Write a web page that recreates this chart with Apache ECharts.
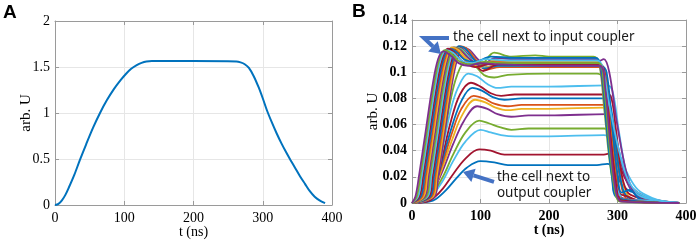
<!DOCTYPE html>
<html>
<head>
<meta charset="utf-8">
<script src="https://cdn.jsdelivr.net/npm/echarts@6/dist/echarts.min.js"></script>
<style>
body{margin:0;background:#fff;}
#main{width:699px;height:241px;}
</style>
</head>
<body>
<div id="main"></div>
<script>
//A: 输入脉冲
var tA = [0,5,10,15,20,28,36,45,55,65,75,85,95,103,110,118,125,132,140,200,262,268,274,280,287,294,300,306,313,320,327,334,340,347,354,361,368,375,382,390];
var uA = [0,0.012,0.05,0.11,0.19,0.33,0.49,0.66,0.84,1.0,1.14,1.26,1.36,1.43,1.48,1.52,1.545,1.56,1.565,1.565,1.56,1.55,1.53,1.49,1.40,1.28,1.16,1.03,0.90,0.78,0.67,0.57,0.49,0.40,0.31,0.23,0.15,0.09,0.05,0.02];

//B: 各单元腔电压, c00 = 靠近输出耦合器, c25 = 靠近输入耦合器
var c00 = [[0,0],[25,0.001],[35,0.003],[50,0.010],[65,0.019],[80,0.027],[100,0.032],[120,0.031],[140,0.029],[200,0.029],[270,0.029],[285,0.030],[295,0.027],[305,0.015],[315,0.010],[330,0.007],[350,0.003],[370,0.001],[390,0]];
var c01 = [[0,0],[22,0.001],[32,0.004],[45,0.011],[60,0.022],[78,0.034],[98,0.041],[115,0.040],[135,0.037],[200,0.037],[280,0.037],[290,0.038],[300,0.033],[310,0.020],[320,0.012],[340,0.005],[360,0.002],[390,0]];
var c02 = [[0,0],[20,0.002],[30,0.006],[45,0.017],[60,0.032],[78,0.047],[100,0.056],[115,0.054],[130,0.052],[150,0.051],[200,0.051],[280,0.052],[290,0.050],[300,0.040],[315,0.022],[330,0.010],[350,0.004],[370,0.001],[390,0]];
var c03 = [[0,0],[21,0.002],[30,0.007],[45,0.020],[60,0.037],[78,0.054],[98,0.063],[112,0.061],[128,0.058],[145,0.056],[170,0.057],[200,0.057],[280,0.057],[290,0.054],[300,0.040],[312,0.020],[325,0.008],[345,0.003],[390,0]];
var c04 = [[0,0],[22,0.002],[31,0.009],[45,0.025],[60,0.045],[76,0.063],[95,0.074],[110,0.072],[125,0.068],[145,0.066],[170,0.067],[200,0.067],[285,0.068],[292,0.062],[300,0.045],[310,0.022],[320,0.010],[335,0.004],[390,0]];
var c05 = [[0,0],[23,0.003],[32,0.010],[45,0.028],[59,0.049],[74,0.068],[92,0.079],[107,0.077],[122,0.073],[140,0.071],[160,0.072],[200,0.072],[280,0.073],[290,0.068],[298,0.045],[306,0.020],[315,0.006],[330,0.002],[390,0]];
var c06 = [[0,0],[24,0.003],[32,0.011],[45,0.031],[58,0.053],[72,0.072],[90,0.082],[105,0.080],[120,0.076],[140,0.074],[160,0.075],[200,0.075],[278,0.075],[288,0.070],[296,0.045],[304,0.018],[312,0.004],[330,0.002],[390,0]];
var c07 = [[0,0],[25,0.003],[33,0.012],[45,0.034],[58,0.058],[72,0.078],[88,0.088],[102,0.086],[118,0.081],[135,0.079],[160,0.080],[200,0.080],[280,0.080],[288,0.078],[296,0.052],[304,0.020],[312,0.006],[330,0.002],[390,0]];
var c08 = [[0,0],[26,0.004],[34,0.013],[45,0.037],[57,0.063],[70,0.083],[86,0.092],[100,0.089],[115,0.084],[130,0.082],[150,0.083],[200,0.083],[282,0.083],[290,0.082],[298,0.055],[306,0.022],[315,0.008],[330,0.004],[350,0.001],[390,0]];
var c09 = [[0,0],[28,0.004],[35,0.015],[45,0.042],[56,0.070],[67,0.088],[82,0.099],[95,0.097],[110,0.091],[125,0.088],[145,0.089],[200,0.089],[285,0.090],[293,0.085],[302,0.055],[312,0.025],[322,0.010],[340,0.004],[390,0]];
var c10 = [[0,0],[30,0.005],[36,0.018],[46,0.048],[56,0.078],[66,0.098],[78,0.108],[90,0.106],[105,0.098],[120,0.096],[140,0.098],[200,0.099],[270,0.099],[278,0.096],[288,0.060],[298,0.020],[306,0.003],[320,0.001],[390,0]];
var c11 = [[0,0],[33,0.005],[38,0.02],[48,0.055],[58,0.09],[66,0.11],[74,0.119],[84,0.117],[96,0.110],[110,0.104],[130,0.107],[160,0.108],[200,0.108],[270,0.108],[280,0.110],[288,0.100],[298,0.065],[310,0.030],[320,0.012],[332,0.003],[345,0.001],[390,0]];
var c12 = [[0,0],[31,0.005],[36,0.02],[46,0.055],[56,0.09],[64,0.11],[72,0.119],[82,0.117],[94,0.109],[108,0.104],[130,0.106],[150,0.106],[200,0.106],[272,0.106],[280,0.102],[288,0.070],[296,0.030],[304,0.006],[312,0.002],[390,0]];
var c13 = [[0,0],[29,0.005],[34,0.02],[44,0.055],[54,0.09],[62,0.11],[70,0.120],[80,0.118],[92,0.110],[108,0.102],[128,0.104],[150,0.104],[200,0.104],[274,0.104],[282,0.100],[290,0.065],[298,0.025],[305,0.004],[320,0.001],[390,0]];
var c14 = [[0,0],[27,0.005],[32,0.02],[42,0.055],[52,0.09],[60,0.11],[68,0.120],[78,0.118],[90,0.110],[106,0.103],[126,0.105],[150,0.105],[200,0.105],[276,0.105],[284,0.100],[292,0.060],[300,0.022],[306,0.008],[318,0.010],[330,0.004],[345,0.001],[390,0]];
var c15 = [[0,0],[25,0.005],[30,0.02],[40,0.055],[50,0.09],[58,0.11],[66,0.119],[76,0.117],[88,0.109],[104,0.101],[124,0.106],[150,0.107],[200,0.107],[270,0.107],[278,0.104],[286,0.070],[294,0.030],[302,0.008],[315,0.005],[330,0.002],[390,0]];
var c16 = [[0,0],[23,0.005],[28,0.02],[38,0.055],[48,0.09],[56,0.11],[64,0.119],[74,0.117],[86,0.110],[102,0.104],[124,0.111],[150,0.111],[200,0.110],[268,0.110],[276,0.105],[284,0.070],[292,0.030],[300,0.010],[310,0.003],[340,0.002],[370,0.001],[390,0]];
var c17 = [[0,0],[21,0.005],[26,0.02],[36,0.055],[46,0.09],[54,0.11],[62,0.119],[72,0.117],[84,0.110],[100,0.106],[120,0.115],[145,0.112],[180,0.113],[200,0.112],[265,0.112],[273,0.108],[281,0.070],[289,0.030],[297,0.008],[306,0.002],[390,0]];
var c18 = [[0,0],[19,0.005],[24,0.02],[34,0.055],[44,0.09],[52,0.11],[60,0.119],[70,0.117],[82,0.111],[100,0.105],[122,0.111],[150,0.110],[200,0.110],[268,0.110],[276,0.100],[284,0.060],[292,0.022],[300,0.005],[390,0]];
var c19 = [[0,0],[17,0.005],[22,0.02],[32,0.055],[42,0.09],[50,0.11],[58,0.119],[68,0.117],[80,0.110],[98,0.104],[120,0.109],[150,0.108],[200,0.108],[270,0.108],[278,0.098],[286,0.060],[294,0.020],[302,0.004],[390,0]];
var c20 = [[0,0],[15,0.005],[20,0.02],[30,0.055],[40,0.09],[48,0.11],[56,0.118],[66,0.116],[78,0.109],[96,0.104],[118,0.108],[150,0.107],[200,0.107],[272,0.107],[280,0.095],[288,0.055],[296,0.018],[304,0.003],[390,0]];
var c21 = [[0,0],[13,0.005],[18,0.02],[28,0.055],[38,0.09],[46,0.11],[54,0.118],[64,0.116],[76,0.110],[92,0.108],[115,0.112],[150,0.111],[200,0.111],[268,0.111],[276,0.104],[284,0.060],[292,0.020],[300,0.004],[390,0]];
var c22 = [[0,0],[11,0.005],[16,0.02],[26,0.055],[36,0.09],[44,0.11],[52,0.118],[62,0.115],[74,0.108],[92,0.104],[112,0.106],[140,0.106],[200,0.106],[274,0.106],[282,0.092],[290,0.050],[298,0.014],[306,0.002],[390,0]];
var c23 = [[0,0],[9,0.005],[14,0.02],[24,0.055],[34,0.09],[42,0.11],[50,0.117],[60,0.115],[72,0.109],[88,0.107],[108,0.110],[140,0.109],[200,0.109],[270,0.109],[278,0.104],[288,0.075],[300,0.045],[312,0.022],[325,0.010],[345,0.004],[370,0.001],[390,0]];
var c24 = [[0,0],[7,0.005],[12,0.02],[22,0.055],[32,0.09],[40,0.11],[48,0.117],[58,0.114],[70,0.108],[86,0.106],[105,0.108],[130,0.107],[200,0.107],[272,0.107],[280,0.090],[288,0.045],[296,0.010],[304,0.001],[390,0]];
var c25 = [[0,0],[5,0.005],[10,0.02],[20,0.055],[30,0.09],[38,0.11],[46,0.116],[56,0.113],[68,0.107],[82,0.105],[100,0.107],[130,0.106],[200,0.105],[274,0.105],[282,0.088],[290,0.042],[298,0.008],[306,0.001],[390,0]];
var cellsB = [c00,c01,c02,c03,c04,c05,c06,c07,c08,c09,c10,c11,c12,c13,c14,c15,c16,c17,c18,c19,c20,c21,c22,c23,c24,c25];

var matlab = ['#0072BD','#D95319','#EDB120','#7E2F8E','#77AC30','#4DBEEE','#A2142F'];
var axisCol = '#9a9a9a';
var serif = '"Liberation Serif", "DejaVu Serif", serif';

var myChart = echarts.init(document.getElementById('main'));

function xAx(grid, pos, show, bold){
	return {
		type: 'value', gridIndex: grid, position: pos, min: 0, max: 400, interval: 100,
		name: show ? 't (ns)' : '', nameLocation: 'middle', nameGap: 20, nameMoveOverlap: false,
		nameTextStyle: {fontFamily: serif, fontSize: 14, color: '#000', fontWeight: bold ? 'bold' : 'normal'},
		axisLine: {show: true, onZero: false, lineStyle: {color: axisCol, width: 1}},
		axisTick: {show: true, inside: true, length: 4, lineStyle: {color: axisCol}},
		axisLabel: {show: show, margin: 6, fontFamily: serif, fontSize: 14, color: '#000', fontWeight: bold ? 'bold' : 'normal'},
		splitLine: {show: show, lineStyle: {color: '#e6e6e6', width: 1}}
	};
}
function yAx(grid, pos, show, max, iv, gap, bold){
	return {
		type: 'value', gridIndex: grid, position: pos, min: 0, max: max, interval: iv,
		name: show ? 'arb. U' : '', nameLocation: 'middle', nameGap: gap, nameMoveOverlap: false,
		nameTextStyle: {fontFamily: serif, fontSize: 15, color: '#000'},
		axisLine: {show: true, onZero: false, lineStyle: {color: axisCol, width: 1}},
		axisTick: {show: true, inside: true, length: 4, lineStyle: {color: axisCol}},
		axisLabel: {show: show, margin: 5, fontFamily: serif, fontSize: 14, color: '#000', fontWeight: bold ? 'bold' : 'normal'},
		splitLine: {show: show, lineStyle: {color: '#e6e6e6', width: 1}}
	};
}

var series = [{
	type: 'line', xAxisIndex: 0, yAxisIndex: 0,
	data: tA.map(function(t, i){ return [t, uA[i]]; }),
	showSymbol: false, smooth: 0.3, silent: true,
	lineStyle: {color: '#0072BD', width: 2}
}];
cellsB.forEach(function(d, j){
	series.push({
		type: 'line', xAxisIndex: 2, yAxisIndex: 2, data: d,
		showSymbol: false, smooth: 0.35, silent: true, z: 2,
		lineStyle: {color: matlab[(7 - j % 7) % 7], width: 1.8}
	});
});

option = {
	animation: false,
	backgroundColor: '#fff',
	grid: [
		{left: 55, top: 21, width: 277, height: 184, outerBoundsMode: 'none', containLabel: false},
		{left: 412, top: 20, width: 274, height: 183, outerBoundsMode: 'none', containLabel: false}
	],
	xAxis: [xAx(0, 'bottom', true, false), xAx(0, 'top', false, false), xAx(1, 'bottom', true, true), xAx(1, 'top', false, true)],
	yAxis: [yAx(0, 'left', true, 2, 0.5, 21, false), yAx(0, 'right', false, 2, 0.5, 0, false),
	        yAx(1, 'left', true, 0.14, 0.02, 31, true), yAx(1, 'right', false, 0.14, 0.02, 0, true)],
	series: series
};
myChart.setOption(option);

//标注: 箭头和文字
function px(t, v){
	return myChart.convertToPixel({xAxisIndex: 2, yAxisIndex: 2}, [t, v]);
}
function arrow(pts, color){
	var n = pts.length, a = pts[n-2], b = pts[n-1];
	var dx = b[0]-a[0], dy = b[1]-a[1], L = Math.sqrt(dx*dx + dy*dy);
	var ux = dx/L, uy = dy/L, hl = 11, hw = 7;
	var base = [b[0]-ux*hl, b[1]-uy*hl];
	var line = pts.slice(0, n-1).concat([base]);
	return [
		{type: 'polyline', z: 100, shape: {points: line}, style: {stroke: color, lineWidth: 4, fill: null, lineJoin: 'miter'}},
		{type: 'polygon', z: 100, shape: {points: [b, [base[0]-uy*hw, base[1]+ux*hw], [base[0]+uy*hw, base[1]-ux*hw]]}, style: {fill: color}}
	];
}
var blue = '#4472C4';
var txtFont = '13.5px "Noto Sans", "Open Sans", sans-serif';
var p1 = px(59.9, 0.127), p2 = px(124, 0.0199), p3 = px(124, 0.0077);
var graphics = []
	.concat(arrow([px(54, 0.1262), px(17.5, 0.1262), px(42.3, 0.114)], blue))
	.concat(arrow([px(119.7, 0.0161), px(74.5, 0.0237)], blue))
	.concat([
		{type: 'text', z: 100, x: p1[0], y: p1[1], style: {text: 'the cell next to input coupler', font: txtFont, fill: '#1a1a1a', align: 'left', verticalAlign: 'middle'}},
		{type: 'text', z: 100, x: p2[0], y: p2[1], style: {text: 'the cell next to', font: txtFont, fill: '#1a1a1a', align: 'left', verticalAlign: 'middle'}},
		{type: 'text', z: 100, x: p3[0], y: p3[1], style: {text: 'output coupler', font: txtFont, fill: '#1a1a1a', align: 'left', verticalAlign: 'middle'}},
		{type: 'text', left: 3, top: 3, style: {text: 'A', font: 'bold 19px "Liberation Sans", Arial, sans-serif', fill: '#000'}},
		{type: 'text', left: 352, top: 2, style: {text: 'B', font: 'bold 19px "Liberation Sans", Arial, sans-serif', fill: '#000'}}
	]);
myChart.setOption({graphic: graphics});
window.onresize = myChart.resize;
</script>
</body>
</html>
